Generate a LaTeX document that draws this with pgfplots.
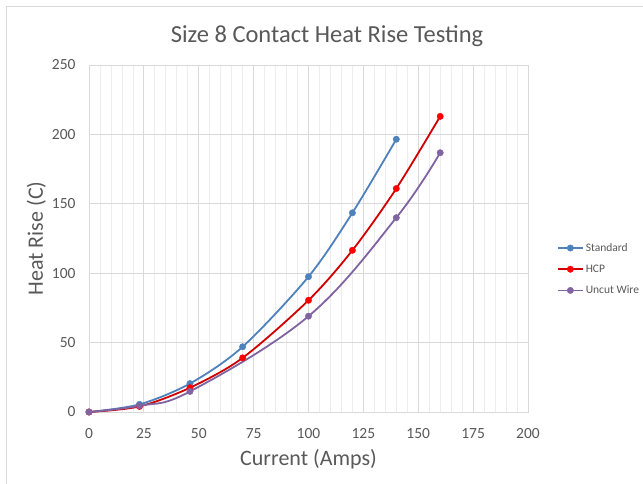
\documentclass[border=0pt]{standalone}
\usepackage{pgfplots}
\pgfplotsset{compat=1.18}
\usepackage{fontspec}
\setmainfont{Carlito}

\definecolor{stdblue}{HTML}{4F81BD}
\definecolor{hcpred}{HTML}{D00000}
\definecolor{hcpmark}{HTML}{FF0000}
\definecolor{uncut}{HTML}{8064A2}
\definecolor{txtgray}{HTML}{595959}
\definecolor{majgrid}{HTML}{D9D9D9}
\definecolor{mingrid}{HTML}{EDEDED}

\begin{document}
\begin{tikzpicture}[x=1pt,y=1pt]
  \useasboundingbox (0,0) rectangle (643,483);
  \fill[white] (0,0) rectangle (643,483);
  \draw[majgrid, line width=0.8pt] (6,-20) -- (6,477) -- (700,477);

  \node[txtgray, font=\fontsize{24.5}{28}\selectfont] at (327,447) {Size 8 Contact Heat Rise Testing};

  \begin{axis}[
      at={(89pt,71pt)}, anchor=south west,
      scale only axis,
      width=439pt, height=347pt,
      xmin=0, xmax=200,
      ymin=0, ymax=250,
      xtick={0,25,...,200},
      ytick={0,50,...,250},
      minor x tick num=4,
      major tick length=0pt, minor tick length=0pt,
      grid=both,
      major grid style={majgrid, line width=0.8pt},
      minor grid style={mingrid, line width=0.8pt},
      ymajorgrids=true, yminorgrids=false,
      axis line style={draw=majgrid, line width=0.8pt},
      tick label style={txtgray, font=\fontsize{15.5}{18}\selectfont},
      xticklabel style={yshift=-13pt},
      yticklabel style={xshift=-10pt},
      /pgf/number format/assume math mode=true,
      xlabel={Current (Amps)},
      ylabel={Heat Rise (C)},
      label style={txtgray, font=\fontsize{22}{26}\selectfont},
      xlabel style={yshift=-4pt},
      ylabel style={yshift=-1pt},
      legend style={at={(1.066,0.492)}, anchor=north west, draw=none, fill=none,
        font=\fontsize{11.5}{13}\selectfont, text=txtgray, row sep=8pt,
        legend cell align=left, inner sep=0pt, outer sep=0pt},
      legend image code/.code={
        \draw[mark repeat=2, mark phase=2, #1] plot coordinates {(0pt,0pt) (12.5pt,0pt) (25pt,0pt)};
      },
  ]
  \addplot[color=stdblue, line width=1.8pt, smooth, mark=*, mark size=3.2pt,
    mark options={solid, fill=stdblue, draw=stdblue, line width=0.4pt}]
    coordinates {(0,0)(23,5.5)(46,20.5)(70,47)(100,97.5)(120,143.5)(140,196.5)};
  \addlegendentry{Standard}

  \addplot[color=hcpred, line width=1.8pt, smooth, mark=*, mark size=3.2pt,
    mark options={solid, fill=hcpmark, draw=hcpmark, line width=0.4pt}]
    coordinates {(0,0)(23,4)(46,17.5)(70,39)(100,80.5)(120,116.5)(140,161)(160,213)};
  \addlegendentry{HCP}

  \addplot[color=uncut, line width=1.8pt, smooth, tension=0.62, mark=*, mark size=3.2pt,
    mark options={solid, fill=uncut, draw=uncut, line width=0.4pt}]
    coordinates {(0,0)(23,4.5)(46,14.8)(100,69)(140,140)(160,186.8)};
  \addlegendentry{Uncut Wire}
  \end{axis}
\end{tikzpicture}
\end{document}
